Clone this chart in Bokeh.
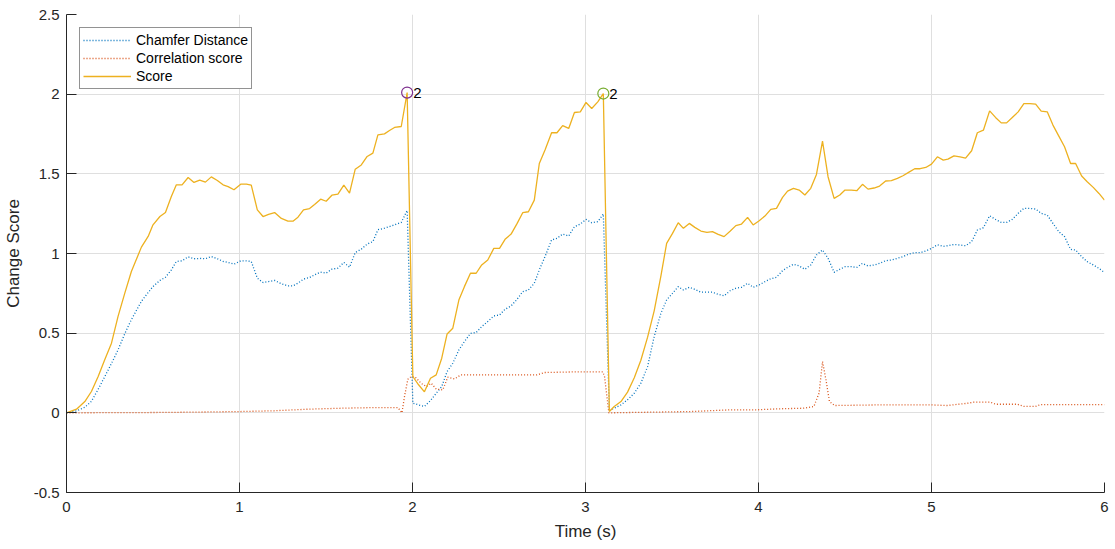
from bokeh.plotting import figure
from bokeh.models import FixedTicker, Range1d, Legend, LegendItem, ColumnDataSource
from bokeh.core.properties import value
from bokeh.embed import file_html
from bokeh.resources import INLINE

time_s = [
0.000, 0.058, 0.106, 0.144, 0.183, 0.221, 0.260, 0.298, 0.337, 0.375,
0.433, 0.472, 0.500, 0.540, 0.572, 0.606, 0.635, 0.668, 0.703, 0.737,
0.770, 0.803, 0.837, 0.872, 0.905, 0.934, 0.968, 1.007, 1.040, 1.068,
1.103, 1.136, 1.168, 1.203, 1.242, 1.280, 1.309, 1.338, 1.370, 1.405,
1.434, 1.469, 1.501, 1.534, 1.569, 1.603, 1.636, 1.669, 1.704, 1.738,
1.771, 1.800, 1.838, 1.867, 1.896, 1.935, 1.969, 2.002, 2.035, 2.069,
2.104, 2.137, 2.169, 2.200, 2.233, 2.268, 2.300, 2.335, 2.368, 2.400,
2.435, 2.470, 2.503, 2.535, 2.570, 2.605, 2.637, 2.670, 2.704, 2.733,
2.766, 2.804, 2.835, 2.868, 2.903, 2.936, 2.970, 3.003, 3.036, 3.071,
3.103, 3.138, 3.166, 3.205, 3.243, 3.282, 3.320, 3.359, 3.397, 3.436,
3.469, 3.503, 3.536, 3.566, 3.600, 3.632, 3.667, 3.702, 3.734, 3.767,
3.801, 3.837, 3.869, 3.902, 3.937, 3.969, 4.004, 4.037, 4.071, 4.104,
4.139, 4.168, 4.202, 4.235, 4.268, 4.302, 4.335, 4.370, 4.402, 4.437,
4.470, 4.500, 4.537, 4.568, 4.601, 4.633, 4.668, 4.700, 4.735, 4.768,
4.803, 4.835, 4.870, 4.903, 4.934, 4.967, 5.000, 5.034, 5.068, 5.095,
5.130, 5.165, 5.197, 5.232, 5.265, 5.300, 5.336, 5.370, 5.403, 5.434,
5.467, 5.501, 5.534, 5.569, 5.602, 5.634, 5.669, 5.702, 5.736, 5.769,
5.804, 5.833, 5.868, 5.900, 5.935, 5.968, 6.000]

score = [
0.000, 0.023, 0.071, 0.134, 0.228, 0.333, 0.437, 0.605, 0.751, 0.887,
1.040, 1.107, 1.180, 1.232, 1.257, 1.358, 1.431, 1.431, 1.477, 1.446,
1.460, 1.448, 1.481, 1.458, 1.431, 1.420, 1.400, 1.435, 1.435, 1.429,
1.274, 1.232, 1.245, 1.257, 1.220, 1.203, 1.203, 1.228, 1.274, 1.282,
1.307, 1.341, 1.328, 1.366, 1.372, 1.429, 1.379, 1.529, 1.556, 1.609,
1.630, 1.745, 1.751, 1.772, 1.791, 1.797, 2.010, 0.228, 0.176, 0.132,
0.217, 0.238, 0.343, 0.495, 0.531, 0.708, 0.792, 0.876, 0.876, 0.928,
0.959, 1.032, 1.032, 1.089, 1.122, 1.189, 1.256, 1.262, 1.335, 1.565,
1.649, 1.758, 1.758, 1.803, 1.785, 1.885, 1.889, 1.948, 1.910, 1.952,
2.004, 0.008, 0.040, 0.071, 0.130, 0.220, 0.330, 0.475, 0.640, 0.860,
1.064, 1.126, 1.193, 1.158, 1.189, 1.164, 1.141, 1.133, 1.137, 1.120,
1.106, 1.141, 1.175, 1.185, 1.227, 1.179, 1.206, 1.235, 1.277, 1.283,
1.352, 1.392, 1.409, 1.398, 1.367, 1.409, 1.496, 1.705, 1.482, 1.346,
1.367, 1.398, 1.398, 1.394, 1.434, 1.404, 1.411, 1.423, 1.455, 1.457,
1.471, 1.488, 1.511, 1.532, 1.532, 1.540, 1.561, 1.607, 1.586, 1.592,
1.613, 1.607, 1.599, 1.645, 1.758, 1.774, 1.895, 1.854, 1.820, 1.820,
1.854, 1.889, 1.941, 1.941, 1.937, 1.893, 1.889, 1.806, 1.737, 1.670,
1.565, 1.565, 1.486, 1.450, 1.415, 1.377, 1.335]

chamfer = [
0.000, 0.012, 0.035, 0.072, 0.148, 0.227, 0.310, 0.395, 0.497, 0.585,
0.700, 0.755, 0.793, 0.831, 0.851, 0.897, 0.950, 0.954, 0.979, 0.967,
0.969, 0.967, 0.981, 0.967, 0.950, 0.944, 0.933, 0.954, 0.954, 0.950,
0.845, 0.818, 0.824, 0.831, 0.810, 0.797, 0.797, 0.814, 0.839, 0.849,
0.866, 0.883, 0.877, 0.902, 0.908, 0.944, 0.914, 1.006, 1.027, 1.059,
1.075, 1.149, 1.159, 1.169, 1.180, 1.195, 1.270, 0.061, 0.050, 0.040,
0.077, 0.123, 0.165, 0.259, 0.311, 0.395, 0.447, 0.499, 0.504, 0.541,
0.573, 0.608, 0.614, 0.650, 0.671, 0.713, 0.761, 0.771, 0.813, 0.897,
0.980, 1.085, 1.095, 1.122, 1.110, 1.168, 1.185, 1.214, 1.193, 1.200,
1.248, 0.015, 0.029, 0.050, 0.082, 0.123, 0.186, 0.290, 0.479, 0.625,
0.708, 0.750, 0.792, 0.771, 0.788, 0.775, 0.757, 0.757, 0.757, 0.744,
0.734, 0.767, 0.782, 0.788, 0.813, 0.788, 0.803, 0.823, 0.842, 0.851,
0.892, 0.913, 0.932, 0.922, 0.901, 0.928, 0.991, 1.022, 0.970, 0.882,
0.901, 0.917, 0.917, 0.913, 0.938, 0.922, 0.928, 0.938, 0.955, 0.959,
0.970, 0.980, 0.997, 1.005, 1.005, 1.016, 1.032, 1.055, 1.045, 1.049,
1.057, 1.053, 1.049, 1.074, 1.147, 1.162, 1.237, 1.214, 1.195, 1.195,
1.214, 1.252, 1.283, 1.283, 1.279, 1.252, 1.241, 1.189, 1.137, 1.106,
1.026, 1.022, 0.980, 0.949, 0.928, 0.907, 0.880]

corr_t = [
0.000, 0.500, 0.700, 1.000, 1.200, 1.400, 1.590, 1.780, 1.916, 1.939,
1.955, 1.973, 1.995, 2.020, 2.050, 2.080, 2.108, 2.137, 2.175, 2.204,
2.243, 2.280, 2.720, 2.762, 2.935, 3.100, 3.110, 3.135, 3.610, 3.840,
3.990, 4.110, 4.260, 4.320, 4.350, 4.370, 4.390, 4.410, 4.440, 4.706,
4.995, 5.090, 5.207, 5.245, 5.340, 5.370, 5.495, 5.535, 5.600, 5.630,
6.000]
correlation = [
0.000, 0.002, 0.004, 0.008, 0.013, 0.023, 0.029, 0.033, 0.033, 0.000,
0.110, 0.210, 0.230, 0.220, 0.185, 0.165, 0.186, 0.149, 0.144, 0.224,
0.213, 0.238, 0.238, 0.253, 0.257, 0.257, 0.228, 0.000, 0.008, 0.019,
0.019, 0.025, 0.029, 0.040, 0.123, 0.322, 0.207, 0.071, 0.046, 0.050,
0.050, 0.046, 0.060, 0.067, 0.067, 0.054, 0.054, 0.040, 0.040, 0.052,
0.052]

peak_t = [1.969, 3.103]
peak_v = [2.010, 2.004]
peak_labels = ["2", "2"]
peak_colors = ["#7E2F8E", "#77AC30"]

x_ticks = [0, 1, 2, 3, 4, 5, 6]
y_ticks = [-0.5, 0, 0.5, 1, 1.5, 2, 2.5]
y_tick_labels = ["-0.5", "0", "0.5", "1", "1.5", "2", "2.5"]

FONT = "Liberation Sans"
AX = "#262626"

p = figure(width=1115, height=549, x_range=Range1d(0, 6), y_range=Range1d(-0.5, 2.5),
           output_backend="svg", toolbar_location=None,
           min_border_left=65, min_border_right=11, min_border_top=14, min_border_bottom=57)
p.outline_line_color = None
p.background_fill_color = "white"
p.border_fill_color = "white"

p.xaxis.ticker = FixedTicker(ticks=x_ticks)
p.yaxis.ticker = FixedTicker(ticks=y_ticks)
p.xaxis.major_label_overrides = {t: str(t) for t in x_ticks}
p.yaxis.major_label_overrides = dict(zip(y_ticks, y_tick_labels))
for ax in (p.xaxis[0], p.yaxis[0]):
    ax.axis_line_color = AX
    ax.axis_line_width = 1
    ax.major_tick_line_color = AX
    ax.major_tick_in = 10
    ax.major_tick_out = 0
    ax.minor_tick_line_color = None
    ax.major_label_text_font = FONT
    ax.major_label_text_font_size = "15px"
    ax.major_label_text_color = AX
    ax.axis_label_text_font = FONT
    ax.axis_label_text_font_size = "17px"
    ax.axis_label_text_font_style = "normal"
    ax.axis_label_text_color = AX
p.xaxis.axis_label = "Time (s)"
p.yaxis.axis_label = "Change Score"
p.xaxis.major_label_standoff = 9
p.xaxis.axis_label_standoff = 7
p.yaxis.major_label_standoff = 7
p.yaxis.axis_label_standoff = 8

p.xgrid.grid_line_color = "#dfdfdf"
p.ygrid.grid_line_color = "#dfdfdf"

r1 = p.line(time_s, chamfer, line_color="#0072BD", line_dash="1 2", line_width=1.3)
r2 = p.line(corr_t, correlation, line_color="#D95319", line_dash="1 2", line_width=1.3)
r3 = p.line(time_s, score, line_color="#EDB120", line_width=1.3)

src = ColumnDataSource(dict(x=peak_t, y=peak_v, t=peak_labels, c=peak_colors))
p.scatter("x", "y", source=src, marker="circle", size=11, fill_color=None,
          line_color="c", line_width=1.2)
p.text("x", "y", text="t", source=src, x_offset=6, text_baseline="middle",
       text_align="left", text_font=value(FONT), text_font_size="15px", text_color="black")

legend = Legend(items=[LegendItem(label="Chamfer Distance", renderers=[r1]),
                       LegendItem(label="Correlation score", renderers=[r2]),
                       LegendItem(label="Score", renderers=[r3])],
                location="top_left")
legend.margin = 13
legend.padding = 3
legend.spacing = 0
legend.label_height = 18
legend.glyph_height = 18
legend.glyph_width = 48
legend.label_standoff = 5
legend.label_text_font = FONT
legend.label_text_font_size = "14px"
legend.label_text_color = "black"
legend.border_line_color = AX
legend.border_line_width = 1
legend.background_fill_color = "white"
legend.background_fill_alpha = 1
p.add_layout(legend, "center")

open("out.html", "w").write(file_html(p, INLINE))
